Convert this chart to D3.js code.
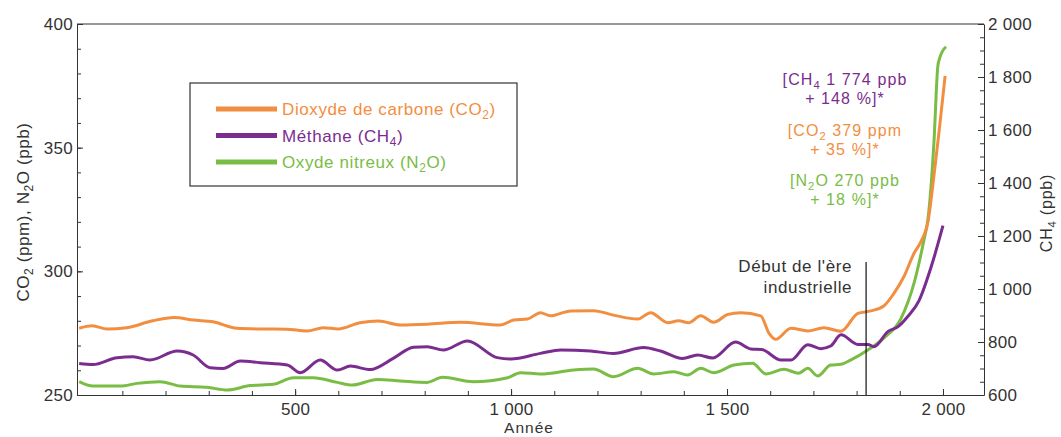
<!DOCTYPE html>
<html>
<head>
<meta charset="utf-8">
<script src="https://cdn.jsdelivr.net/npm/d3@7"></script>
<style>
  body { margin: 0; background: #fff; }
  text { font-family: "Liberation Sans", Arial, sans-serif; }
</style>
</head>
<body>
<script>
// values
var co2Years = [0, 30, 65, 110, 170, 220, 265, 310, 365, 420, 480, 528, 565, 600, 650, 693, 744, 806, 883, 975, 1006, 1038, 1068, 1091, 1138, 1191, 1237, 1293, 1323, 1363, 1388, 1411, 1439, 1469, 1502, 1532, 1578, 1597, 1613, 1648, 1687, 1724, 1764, 1803, 1833, 1863, 1886, 1910, 1933, 1949, 1966, 1980, 1990, 2005];
var co2Values = [277, 278, 276.7, 277.2, 280, 281.3, 280.3, 279.6, 277, 276.7, 276.6, 275.9, 277.2, 276.7, 279.2, 279.9, 278.3, 278.6, 279.4, 278.3, 280.3, 280.7, 283.3, 282, 284, 284.1, 282.3, 280.7, 283.3, 279.2, 280, 279.2, 282, 279.4, 282.6, 283.3, 282, 275, 272.5, 277, 275.9, 277.2, 275.8, 283, 284, 286, 291, 298, 307.3, 312, 320.8, 340, 355, 379];

var ch4Years = [0, 32, 88, 125, 164, 227, 264, 303, 333, 373, 419, 482, 512, 558, 598, 628, 674, 727, 774, 806, 843, 899, 968, 999, 1068, 1115, 1184, 1237, 1307, 1346, 1397, 1432, 1467, 1520, 1555, 1580, 1625, 1648, 1687, 1717, 1740, 1764, 1803, 1826, 1840, 1873, 1896, 1919, 1944, 1972, 2000];
var ch4Values = [719, 715, 741, 744, 732, 766, 751, 703, 700, 728, 722, 713, 684, 732, 694, 709, 696, 738, 780, 782, 770, 804, 741, 736, 757, 770, 766, 757, 779, 766, 738, 751, 740, 800, 774, 772, 732, 732, 790, 775, 785, 827, 791, 791, 782, 840, 858, 897, 954, 1080, 1239];

var n2oYears = [0, 32, 95, 134, 187, 234, 296, 343, 396, 449, 496, 542, 598, 632, 690, 744, 806, 841, 913, 992, 1022, 1068, 1145, 1191, 1237, 1293, 1330, 1377, 1409, 1439, 1469, 1516, 1559, 1590, 1632, 1666, 1687, 1710, 1740, 1764, 1787, 1826, 1863, 1903, 1933, 1956, 1965, 1979, 1988, 1992, 2007];
var n2oValues = [255.4, 253.6, 253.6, 254.7, 255.4, 253.6, 253.1, 252, 253.8, 254.3, 257, 257, 255.1, 254, 256.3, 255.7, 255.1, 257.2, 255.4, 257, 259, 258.5, 260.1, 260.5, 257.4, 260.8, 258.5, 259.4, 258.1, 260.8, 259, 262.1, 262.8, 258.5, 260.4, 258.8, 260.8, 257.7, 262.1, 262.4, 264.2, 268.2, 273, 281, 295.2, 312.7, 320.8, 351.8, 382.8, 386, 390.8];

var xMajorTicks = [500, 1000, 1500, 2000];
var leftTicks = [250, 300, 350, 400];
var rightTicks = [600, 800, 1000, 1200, 1400, 1600, 1800, 2000];
var industrialYear = 1822;

var orange = "#f28e3f", purple = "#7a2c8f", green = "#79bd45", ink = "#333";

var width = 1061, height = 437;
var svg = d3.select("body").append("svg")
    .attr("width", width)
    .attr("height", height);

var x = d3.scaleLinear().domain([-5, 2095]).range([77, 984]);
var yLeft = d3.scaleLinear().domain([250, 400]).range([395, 24]);
var yRight = d3.scaleLinear().domain([600, 2000]).range([395, 24]);

// french style numbers, "1 000"
var fr = d3.formatLocale({decimal: ",", thousands: " ", grouping: [3], currency: ["", ""]});
var fmt = fr.format(",d");

// frame top line
svg.append("line")
    .attr("x1", x.range()[0]).attr("x2", x.range()[1])
    .attr("y1", 24).attr("y2", 24)
    .attr("stroke", ink).attr("stroke-width", 1);

function styleAxis(g) {
    g.selectAll("path, line").attr("stroke", ink);
    g.selectAll("text").attr("fill", ink).style("font-size", "17px")
        .style("letter-spacing", "0.3px")
        .style("font-family", "'Liberation Sans', Arial, sans-serif");
}

// minor ticks (no labels)
svg.append("g").attr("transform", "translate(0,395)")
    .call(d3.axisBottom(x).tickValues(d3.range(100, 2100, 100)).tickSize(-4).tickFormat(""))
    .call(function(g){ g.select(".domain").remove(); styleAxis(g); });
svg.append("g").attr("transform", "translate(77,0)")
    .call(d3.axisLeft(yLeft).tickValues(d3.range(250, 401, 10)).tickSize(-4).tickFormat(""))
    .call(function(g){ g.select(".domain").remove(); styleAxis(g); });
svg.append("g").attr("transform", "translate(984,0)")
    .call(d3.axisRight(yRight).tickValues(d3.range(600, 2001, 50)).tickSize(-4).tickFormat(""))
    .call(function(g){ g.select(".domain").remove(); styleAxis(g); });

// major axes
svg.append("g").attr("transform", "translate(0,395)")
    .call(d3.axisBottom(x).tickValues(xMajorTicks).tickSize(-6).tickSizeOuter(0).tickPadding(8).tickFormat(fmt))
    .call(styleAxis);
svg.append("g").attr("transform", "translate(77,0)")
    .call(d3.axisLeft(yLeft).tickValues(leftTicks).tickSize(-6).tickSizeOuter(0).tickPadding(4).tickFormat(fmt))
    .call(styleAxis);
svg.append("g").attr("transform", "translate(984,0)")
    .call(d3.axisRight(yRight).tickValues(rightTicks).tickSize(-6).tickSizeOuter(0).tickPadding(4).tickFormat(fmt))
    .call(styleAxis);

// text with subscripts: parts = [[string, isSub], ...]
function richText(sel, parts) {
    parts.forEach(function(p, i) {
        var prevSub = i > 0 && parts[i-1][1];
        var t = sel.append("tspan").text(p[0]);
        if (p[1]) t.attr("font-size", "0.7em").attr("dy", 4);
        else if (prevSub) t.attr("dy", -4);
    });
    return sel;
}

function label(xp, yp, color, anchor, size, spacing) {
    return svg.append("text")
        .attr("x", xp).attr("y", yp)
        .attr("text-anchor", anchor)
        .attr("fill", color)
        .style("font-size", (size || 17) + "px")
        .style("letter-spacing", (spacing == null ? 0.6 : spacing) + "px");
}

// axis titles
richText(label(0, 0, ink, "middle").attr("transform", "translate(29,212) rotate(-90)"),
    [["CO", false], ["2", true], [" (ppm), N", false], ["2", true], ["O (ppb)", false]]);
richText(label(0, 0, ink, "middle", 16, 0.8).attr("transform", "translate(1052,213) rotate(-90)"),
    [["CH", false], ["4", true], [" (ppb)", false]]);
label(529, 433, ink, "middle", 15.5, 1).text("Année");

// series
var lineLeft = d3.line().x(function(d){ return x(d[0]); }).y(function(d){ return yLeft(d[1]); }).curve(d3.curveMonotoneX);
var lineRight = d3.line().x(function(d){ return x(d[0]); }).y(function(d){ return yRight(d[1]); }).curve(d3.curveMonotoneX);

var series = [
    {years: n2oYears, values: n2oValues, color: green, line: lineLeft},
    {years: ch4Years, values: ch4Values, color: purple, line: lineRight},
    {years: co2Years, values: co2Values, color: orange, line: lineLeft}
];
series.forEach(function(s) {
    var pts = s.years.map(function(yr, i){ return [yr, s.values[i]]; });
    svg.append("path")
        .datum(pts)
        .attr("fill", "none")
        .attr("stroke", s.color)
        .attr("stroke-width", 3)
        .attr("stroke-linejoin", "round")
        .attr("d", s.line);
});

// industrial era marker
svg.append("line")
    .attr("x1", x(industrialYear)).attr("x2", x(industrialYear))
    .attr("y1", 262).attr("y2", 395)
    .attr("stroke", "#111").attr("stroke-width", 1.2);
label(x(industrialYear) - 14, 272, ink, "end").text("Début de l'ère");
label(x(industrialYear) - 14, 293, ink, "end").text("industrielle");

// annotations
var annX = 845;
var annotations = [
    {y: 85, color: purple, parts: [["[CH", false], ["4", true], [" 1 774 ppb", false]]},
    {y: 104, color: purple, parts: [["+ 148 %]*", false]]},
    {y: 136, color: orange, parts: [["[CO", false], ["2", true], [" 379 ppm", false]]},
    {y: 155, color: orange, parts: [["+ 35 %]*", false]]},
    {y: 186, color: green, parts: [["[N", false], ["2", true], ["O 270 ppb", false]]},
    {y: 205, color: green, parts: [["+ 18 %]*", false]]}
];
annotations.forEach(function(a) {
    richText(label(annX, a.y, a.color, "middle", 16, 1.1), a.parts);
});

// legend
var legend = svg.append("g");
legend.append("rect")
    .attr("x", 190).attr("y", 83).attr("width", 327).attr("height", 103)
    .attr("fill", "#fff").attr("stroke", ink).attr("stroke-width", 1.2);
var legendItems = [
    {color: orange, parts: [["Dioxyde de carbone (CO", false], ["2", true], [")", false]]},
    {color: purple, parts: [["Méthane (CH", false], ["4", true], [")", false]]},
    {color: green, parts: [["Oxyde nitreux (N", false], ["2", true], ["O)", false]]}
];
legendItems.forEach(function(it, i) {
    var ly = 109 + i * 26.5;
    legend.append("line")
        .attr("x1", 216).attr("x2", 277).attr("y1", ly).attr("y2", ly)
        .attr("stroke", it.color).attr("stroke-width", 5);
    richText(label(282, ly + 6, it.color, "start"), it.parts);
});
</script>
</body>
</html>
